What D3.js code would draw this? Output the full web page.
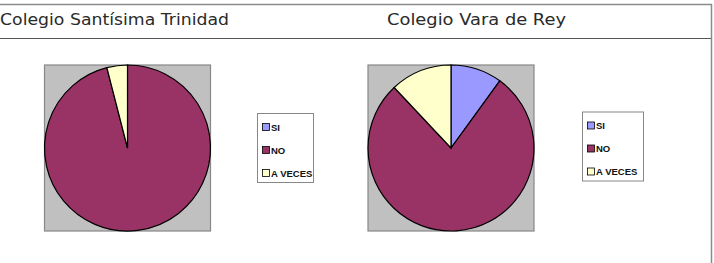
<!DOCTYPE html>
<html>
<head>
<meta charset="utf-8">
<script src="https://cdn.jsdelivr.net/npm/d3@7"></script>
<style>
  body { margin: 0; background: #fff; }
  svg { display: block; }
</style>
</head>
<body>
<div id="chart"></div>
<script>
const categories = ["SI", "NO", "A VECES"];
const colors = ["#9999ff", "#993366", "#ffffcc"];
const schools = ["Colegio Santísima Trinidad", "Colegio Vara de Rey"];
const trinidadValues = [0, 96, 4];
const varaValues = [10, 78, 12];

const width = 714, height = 263;

const svg = d3.select("#chart")
    .append("svg")
    .attr("width", width)
    .attr("height", height);

// table lines
svg.append("line")
    .attr("x1", 0).attr("x2", 712)
    .attr("y1", 4.5).attr("y2", 4.5)
    .attr("stroke", "#8a8a8a").attr("stroke-width", 1.5);
svg.append("line")
    .attr("x1", 0).attr("x2", 712)
    .attr("y1", 38.5).attr("y2", 38.5)
    .attr("stroke", "#555").attr("stroke-width", 1.2);
svg.append("line")
    .attr("x1", 711.5).attr("x2", 711.5)
    .attr("y1", 4).attr("y2", height)
    .attr("stroke", "#8a8a8a").attr("stroke-width", 1.5);

const titleX = [0, 387];
const titleW = [229, 179];
svg.selectAll(".title")
    .data(schools)
    .enter()
    .append("text")
    .attr("class", "title")
    .attr("x", (d, i) => titleX[i])
    .attr("y", 25)
    .attr("font-family", "'DejaVu Sans', sans-serif")
    .attr("font-size", 15)
    .attr("textLength", (d, i) => titleW[i])
    .attr("lengthAdjust", "spacingAndGlyphs")
    .attr("fill", "#2a2a2a")
    .text(d => d);

const pie = d3.pie().sort(null).value(d => d);
const arc = d3.arc().innerRadius(0).outerRadius(83);

const panels = [
    { values: trinidadValues, boxX: 44.5, legendX: 257.5, legendY: 113.5, legendW: 56 },
    { values: varaValues, boxX: 368, legendX: 582.5, legendY: 112, legendW: 61 }
];

panels.forEach(p => {
    const g = svg.append("g");

    g.append("rect")
        .attr("x", p.boxX)
        .attr("y", 65)
        .attr("width", 166)
        .attr("height", 166)
        .attr("fill", "#c0c0c0")
        .attr("stroke", "#888")
        .attr("stroke-width", 1.2);

    const pg = g.append("g")
        .attr("transform", "translate(" + (p.boxX + 83) + "," + 148 + ")");

    pg.selectAll("path")
        .data(pie(p.values).filter(d => d.value > 0))
        .enter()
        .append("path")
        .attr("d", arc)
        .attr("fill", d => colors[d.index])
        .attr("stroke", "#000")
        .attr("stroke-width", 1.2);

    const lg = g.append("g")
        .attr("transform", "translate(" + p.legendX + "," + p.legendY + ")");

    lg.append("rect")
        .attr("width", p.legendW)
        .attr("height", 69)
        .attr("fill", "#fff")
        .attr("stroke", "#888")
        .attr("stroke-width", 1);

    const items = lg.selectAll(".item")
        .data(categories)
        .enter()
        .append("g")
        .attr("class", "item")
        .attr("transform", (d, i) => "translate(5," + (10 + i * 23) + ")");

    items.append("rect")
        .attr("width", 7)
        .attr("height", 7)
        .attr("fill", (d, i) => colors[i])
        .attr("stroke", "#000")
        .attr("stroke-width", 0.8);

    items.append("text")
        .attr("x", 8.5)
        .attr("y", 7)
        .attr("font-family", "'Liberation Sans', Arial, sans-serif")
        .attr("font-weight", "bold")
        .attr("font-size", 9.5)
        .attr("fill", "#111")
        .text(d => d);
});
</script>
</body>
</html>
